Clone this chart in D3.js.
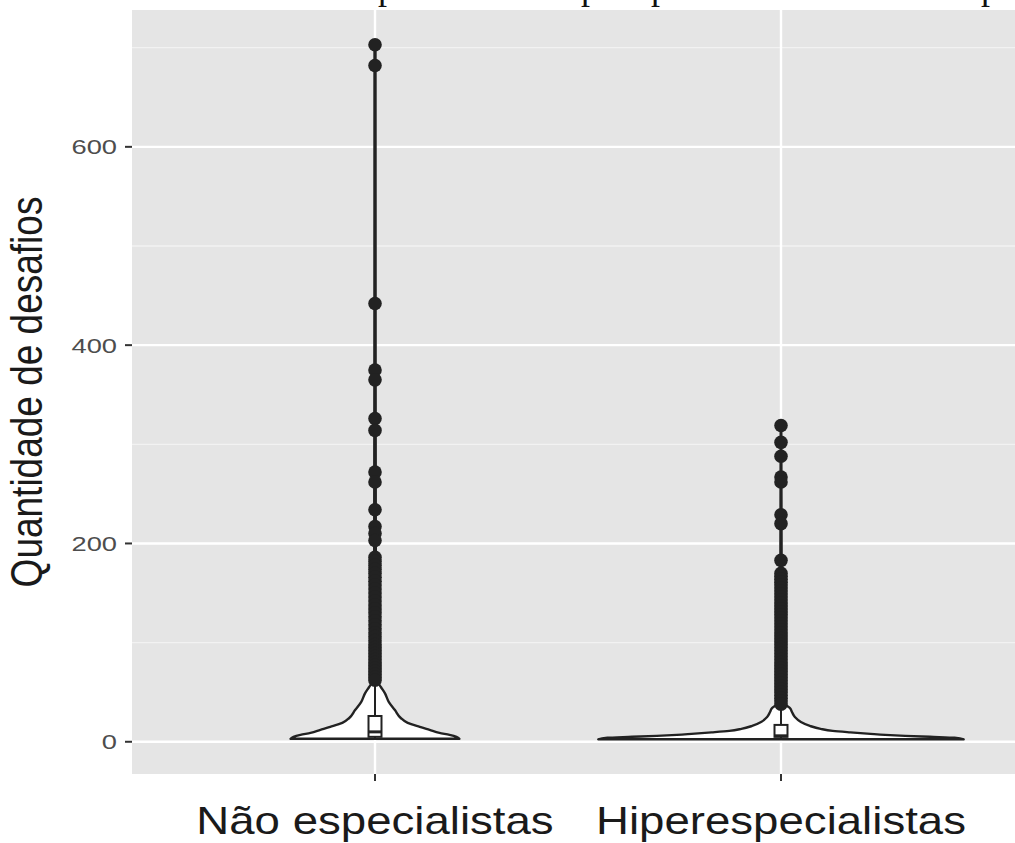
<!DOCTYPE html>
<html><head><meta charset="utf-8">
<script src="https://cdn.jsdelivr.net/npm/d3@7"></script>
<style>html,body{margin:0;padding:0;background:#fff;overflow:hidden}</style>
</head><body>
<svg id="c" width="1015" height="843"></svg>
<script>
const categories = ["Não especialistas", "Hiperespecialistas"];
const yTicks = [0, 200, 400, 600];
const yMinorTicks = [100, 300, 500, 700];
const yTitle = "Quantidade de desafios";
const topLetters = ["p", "p", "p", "p"];
const topLetterPos = [387, 590, 660, 990];

// violin outlines: [value, relative density]
const violinNao = [[3,0.462],[5,0.446],[7,0.408],[9,0.353],[12,0.299],[15,0.245],[19,0.179],[24,0.141],[32,0.109],[40,0.076],[49,0.054],[55,0.033],[60,0.016],[70,0.008],[100,0.0054],[200,0.0043],[400,0.0033],[703,0.0027]];
const violinHiper = [[2.5,1.0],[4,0.95],[5,0.815],[6,0.68],[7,0.57],[8,0.49],[9.5,0.38],[11,0.283],[13,0.217],[16,0.158],[20,0.109],[25,0.076],[30,0.06],[34,0.049],[37,0.027],[42,0.011],[60,0.0054],[150,0.0038],[319,0.0016]];

// box stats: [lowerWhisker, q1, median, q3, upperWhisker]
const boxNao = [3, 5, 10, 26, 58];
const boxHiper = [2.5, 5, 6, 17, 36];

const outliersNao = [703,682,442,375,365,326,314,272,262,234,217,210,203,186,182,178,174,170,166,162,158,154,150,146,142,138,134,130,126,122,118,114,110,106,102,98,95,92,89,86,83,80,77,74,71,68,65,62];
const outliersHiper = [319,302,288,267,262,229,220,183,170,167,164,161,158,155,152,149,146,143,140,137,134,131,128,125,122,119,116,113,110,107,104,101,98,95,92,89,86,83,80,77,74,71,68,65,62,59,56,53,50,47,44,41,38];

const violins = [violinNao, violinHiper];
const boxes = [boxNao, boxHiper];
const outliers = [outliersNao, outliersHiper];

const svg = d3.select("#c");
const P = {left: 132, right: 1025, top: 10, bottom: 774};

const y = d3.scaleLinear().domain([-32.5, 738]).range([P.bottom, P.top]);
const x = d3.scalePoint().domain(categories).range([375, 781]);
const step = 781 - 375;
const wScale = d3.scaleLinear().domain([0, 1]).range([0, 0.45 * step]);

// panel
svg.append("rect").attr("x", P.left).attr("y", P.top)
  .attr("width", P.right - P.left).attr("height", P.bottom - P.top).attr("fill", "#e5e5e5");

const grid = svg.append("g");
yMinorTicks.forEach(t => grid.append("line").attr("x1", P.left).attr("x2", P.right)
  .attr("y1", y(t)).attr("y2", y(t)).attr("stroke", "#f2f2f2").attr("stroke-width", 1.3));
yTicks.forEach(t => grid.append("line").attr("x1", P.left).attr("x2", P.right)
  .attr("y1", y(t)).attr("y2", y(t)).attr("stroke", "#fff").attr("stroke-width", 2.4));
categories.forEach(c => grid.append("line").attr("x1", x(c)).attr("x2", x(c))
  .attr("y1", P.top).attr("y2", P.bottom).attr("stroke", "#fff").attr("stroke-width", 2.4));

// violins
categories.forEach((c, i) => {
  const cx = x(c);
  const area = d3.area()
    .y(d => y(d[0]))
    .x0(d => cx - wScale(d[1]))
    .x1(d => cx + wScale(d[1]))
    .curve(d3.curveMonotoneY);
  svg.append("path").datum(violins[i]).attr("d", area)
    .attr("fill", "#fff").attr("stroke", "#222").attr("stroke-width", 2.4)
    .attr("stroke-linejoin", "round");
});

// boxplots
categories.forEach((c, i) => {
  const cx = x(c), b = boxes[i], bw = 0.032 * step;
  const g = svg.append("g").attr("stroke", "#222").attr("stroke-width", 2);
  g.append("line").attr("x1", cx).attr("x2", cx).attr("y1", y(b[3])).attr("y2", y(b[4]));
  g.append("line").attr("x1", cx).attr("x2", cx).attr("y1", y(b[1])).attr("y2", y(b[0]));
  g.append("rect").attr("x", cx - bw/2).attr("width", bw)
    .attr("y", y(b[3])).attr("height", y(b[1]) - y(b[3])).attr("fill", "#fff");
  g.append("line").attr("x1", cx - bw/2).attr("x2", cx + bw/2).attr("y1", y(b[2])).attr("y2", y(b[2]))
    .attr("stroke-width", 3);
  svg.append("g").selectAll("circle").data(outliers[i]).join("circle")
    .attr("cx", cx).attr("cy", d => y(d)).attr("r", 6.8).attr("fill", "#222");
});

// y axis
const ya = svg.append("g");
yTicks.forEach(t => {
  ya.append("line").attr("x1", P.left - 7).attr("x2", P.left).attr("y1", y(t)).attr("y2", y(t))
    .attr("stroke", "#333").attr("stroke-width", 2);
  ya.append("text").attr("transform", `translate(${P.left - 15},${y(t)}) scale(1.3,1)`)
    .attr("text-anchor", "end").attr("dy", "0.36em")
    .attr("font-family", "Liberation Sans, Arial, sans-serif").attr("font-size", 21)
    .attr("fill", "#4d4d4d").text(t);
});
svg.append("text").attr("transform", `translate(42,${(P.top + P.bottom)/2}) scale(1.2,1) rotate(-90)`)
  .attr("text-anchor", "middle")
  .attr("font-family", "Liberation Sans, Arial, sans-serif").attr("font-size", 37)
  .attr("fill", "#1a1a1a").text(yTitle);

// x axis
categories.forEach(c => {
  svg.append("line").attr("x1", x(c)).attr("x2", x(c)).attr("y1", P.bottom).attr("y2", P.bottom + 7)
    .attr("stroke", "#333").attr("stroke-width", 2);
  svg.append("text").attr("transform", `translate(${x(c)},834) scale(1.2,1)`)
    .attr("text-anchor", "middle")
    .attr("font-family", "Liberation Sans, Arial, sans-serif").attr("font-size", 38)
    .attr("fill", "#1a1a1a").text(c);
});

// caption letters at the top edge, clipped by the page edge as in the reference
topLetters.forEach((l, i) => {
  svg.append("text").attr("x", topLetterPos[i]).attr("y", -1).attr("text-anchor", "middle")
    .attr("font-family", "Liberation Serif, serif").attr("font-size", 36)
    .attr("fill", "#111").text(l);
});
</script>
</body></html>
